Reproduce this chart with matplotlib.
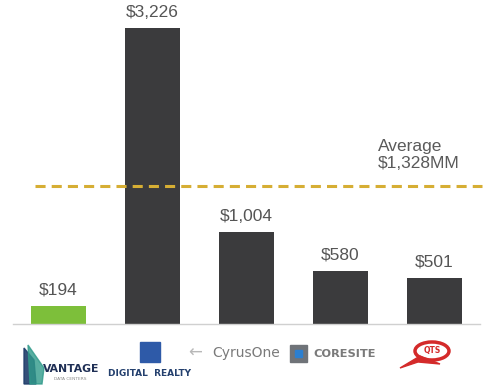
import matplotlib
matplotlib.use("Agg")
import matplotlib.pyplot as plt
from matplotlib.patches import Rectangle, Polygon, Ellipse

# ---- data ----
companies = ["VANTAGE", "DIGITAL REALTY", "CyrusOne", "CORESITE", "QTS"]
values = [194, 3226, 1004, 580, 501]
value_labels = ["$194", "$3,226", "$1,004", "$580", "$501"]
average_label = "$1,328MM"
average_line_level = 1505  # position of the dashed line as drawn in the reference
bar_colors = ["#7dbf3a", "#3b3b3d", "#3b3b3d", "#3b3b3d", "#3b3b3d"]

W, H = 486, 387
fig = plt.figure(figsize=(W / 100, H / 100), dpi=100)
fig.patch.set_facecolor("white")

ax = fig.add_axes([13 / W, (H - 324) / H, (480 - 13) / W, 324 / H])
ax.set_facecolor("none")
x = list(range(len(companies)))
bars = ax.bar(x, values, width=0.585, color=bar_colors, zorder=2)
ax.set_xlim(-0.484, 4.484)
ax.set_ylim(0, 3537)

for b, lab in zip(bars, value_labels):
    ax.annotate(lab, (b.get_x() + b.get_width() / 2, b.get_height()),
                xytext=(0, 6), textcoords="offset points", ha="center", va="bottom",
                fontsize=12.5, color="#555555", family="Liberation Sans")

# average dashed line
ax.plot([-0.25, 4.51], [average_line_level, average_line_level], ls=(0, (3.3, 2.0)),
        lw=2.2, color="#d6ae34", zorder=3, clip_on=False)
ax.text(3.40, average_line_level + 165, "Average\n" + average_label, ha="left",
        va="bottom", fontsize=12.5, color="#5a5a5a", family="Liberation Sans",
        linespacing=1.15)

for s in ["top", "right", "left"]:
    ax.spines[s].set_visible(False)
ax.spines["bottom"].set_color("#d0d0d0")
ax.spines["bottom"].set_linewidth(1.0)
ax.set_xticks([])
ax.set_yticks([])

# ---- logos approximated with text and shapes (figure pixel coords) ----
def fx(px):
    return px / W

def fy(py):
    return 1 - py / H

# Vantage
fig.patches.append(Polygon([(fx(24), fy(384)), (fx(24), fy(348)), (fx(34), fy(360)), (fx(36), fy(384))],
                           closed=True, transform=fig.transFigure, color="#1f3d6b", alpha=0.9))
fig.patches.append(Polygon([(fx(30), fy(384)), (fx(28), fy(345)), (fx(44), fy(368)), (fx(42), fy(384))],
                           closed=True, transform=fig.transFigure, color="#2f9a8a", alpha=0.8))
fig.text(fx(43), fy(369), companies[0], fontsize=7.8, fontweight="bold", color="#1f2f55",
         family="Liberation Sans Narrow", va="center", ha="left")
fig.text(fx(70), fy(379), "DATA CENTERS", fontsize=3.2, color="#8a8a8a", va="center", ha="center")

# Digital Realty
fig.patches.append(Rectangle((fx(140), fy(362)), 20 / W, 20 / H, transform=fig.transFigure,
                             color="#2e5aa8"))
fig.text(fx(150), fy(374), companies[1].replace(" ", "  "),
         fontsize=6.5, fontweight="bold", color="#24406e", va="center", ha="center",
         family="DejaVu Sans")

# CyrusOne
fig.text(fx(188), fy(353), "\u2190", fontsize=12, color="#b8b8b8", va="center", ha="left")
fig.text(fx(212), fy(353), companies[2], fontsize=10, color="#7a7a7a", va="center", ha="left",
         family="Liberation Sans Narrow")

# CoreSite
fig.patches.append(Rectangle((fx(290), fy(362)), 17 / W, 17 / H, transform=fig.transFigure,
                             color="#6f7378"))
fig.patches.append(Rectangle((fx(295), fy(357)), 7 / W, 7 / H, transform=fig.transFigure,
                             color="#2b7fd0"))
fig.text(fx(313), fy(354), companies[3], fontsize=8.2, color="#7a7a7a", va="center", ha="left",
         family="DejaVu Sans", fontweight="bold")

# QTS
fig.patches.append(Ellipse((fx(432), fy(351)), 34 / W, 18 / H, transform=fig.transFigure,
                           fill=False, ec="#d42a2a", lw=2.5))
fig.patches.append(Polygon([(fx(400), fy(368)), (fx(420), fy(356)), (fx(440), fy(364)),
                            (fx(418), fy(362))], closed=True, transform=fig.transFigure,
                           color="#d42a2a"))
fig.text(fx(432), fy(351), companies[4], fontsize=5.5, color="#d42a2a", va="center", ha="center",
         fontweight="bold")

fig.savefig("out.png", dpi=100, facecolor="white")
